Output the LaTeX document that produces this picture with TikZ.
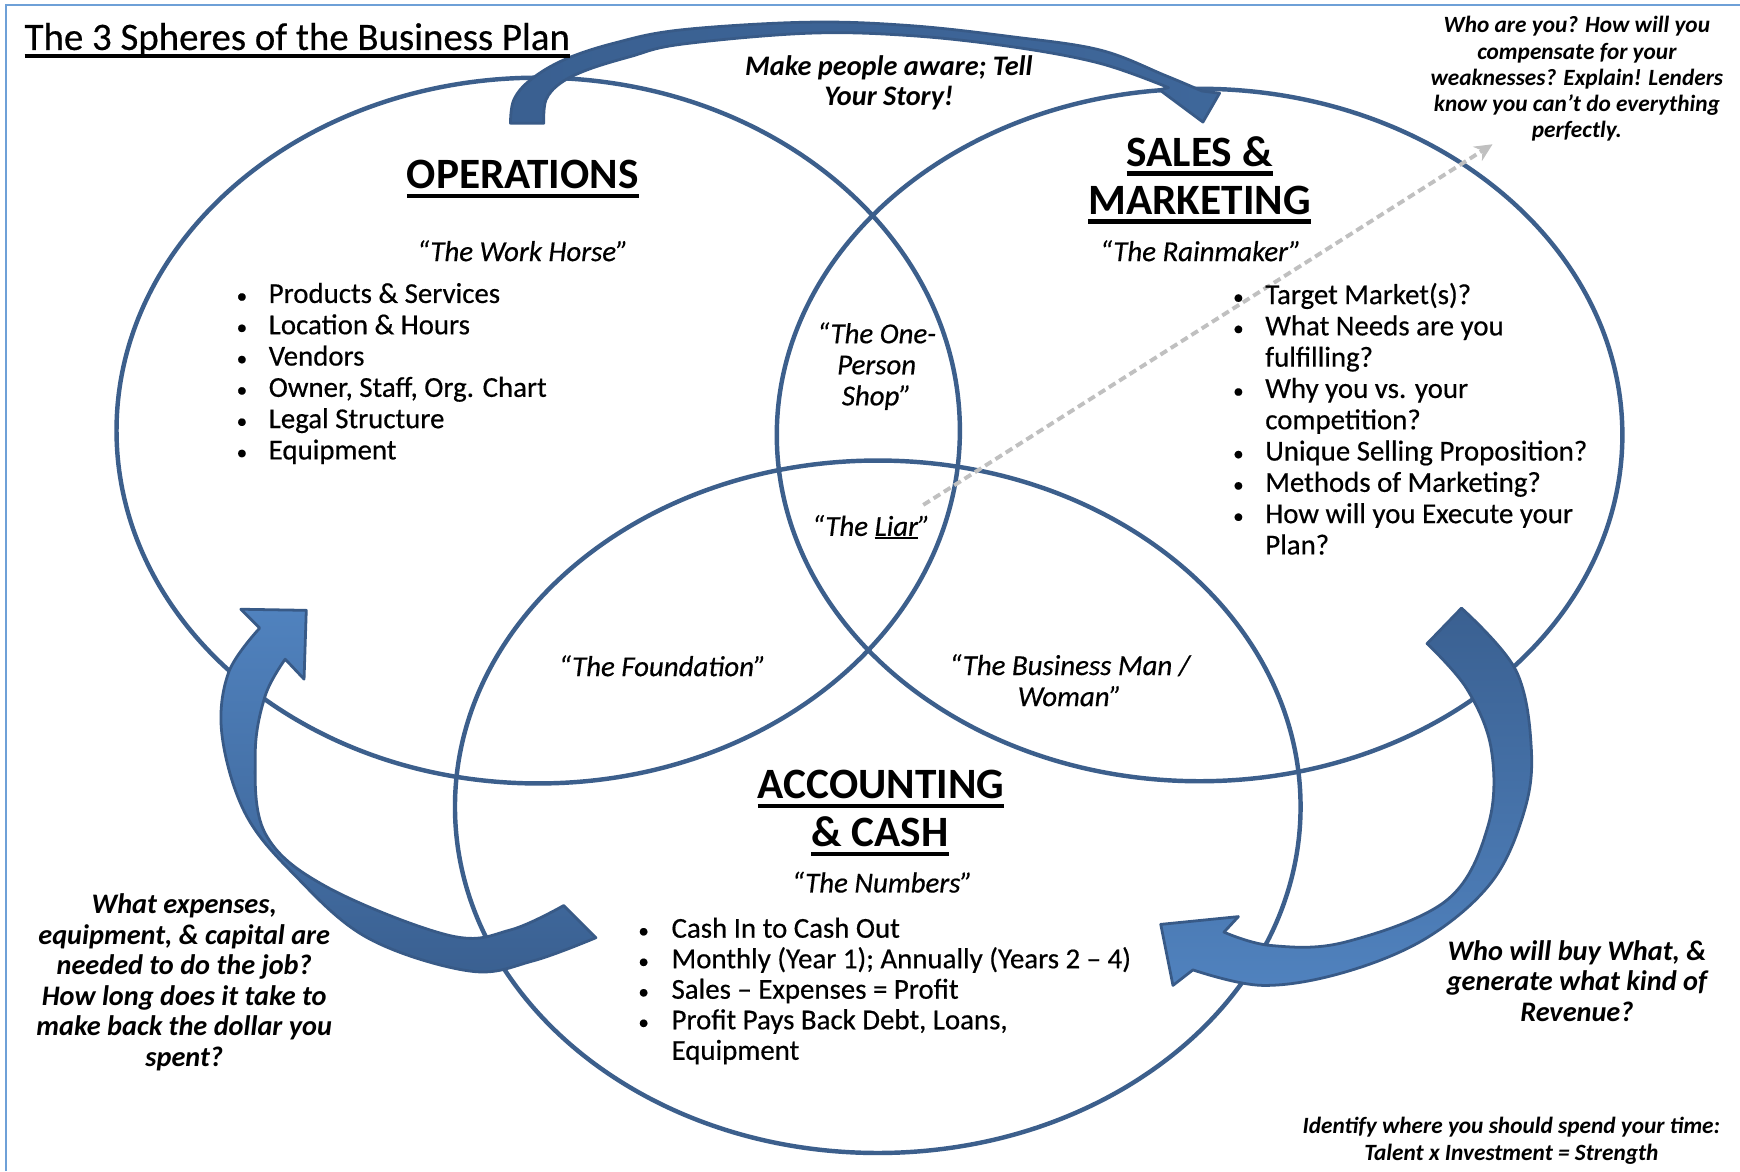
\documentclass[tikz,border=0pt]{standalone}
\usepackage{fontspec}
\setmainfont{Carlito}[UprightFeatures={FakeBold=0.5}, ItalicFeatures={FakeBold=0.5}]
\usetikzlibrary{arrows.meta}
\definecolor{circ}{RGB}{60,95,140}
\definecolor{adark}{RGB}{58,96,145}
\definecolor{alight}{RGB}{80,130,190}
\definecolor{aline}{RGB}{56,90,135}
\definecolor{framec}{RGB}{110,160,215}
\definecolor{dgray}{RGB}{192,192,192}
\newcommand\myul[3]{\setbox0=\hbox{#3}\rlap{\rule[-#1]{\wd0}{#2}}\box0}
\tikzset{
  sphere/.style={draw=circ, line width=4pt},
  bigarrow/.style={draw=aline, line width=2.5pt, line join=round},
  head/.style={anchor=base, inner sep=0pt, font=\bfseries\fontsize{39}{43}\selectfont},
  blt/.style={anchor=base west, inner sep=0pt, font=\fontsize{26}{28}\selectfont},
  dot/.style={anchor=base, inner sep=0pt, font=\fontsize{19}{28}\selectfont},
  quote/.style={anchor=center, inner sep=0pt, align=center, font=\itshape\fontsize{26}{28}\selectfont},
  question/.style={anchor=center, inner sep=0pt, align=center, font=\bfseries\itshape\fontsize{25.5}{27.5}\selectfont},
  smallq/.style={anchor=center, inner sep=0pt, align=center, font=\bfseries\itshape\fontsize{21}{23.5}\selectfont},
}
\begin{document}
\begin{tikzpicture}[x=1pt,y=-1pt]
\useasboundingbox (0,0) rectangle (1568,1055.3);
\fill[white] (0,0) rectangle (1568,1055.3);
% frame (top and left edges)
\draw[framec, line width=2pt] (5.5,1055.3) -- (5.5,4.5) -- (1568,4.5);

% the three spheres
\draw[sphere] (485,388) ellipse [x radius=380pt, y radius=318pt];
\draw[sphere] (1081,392) ellipse [x radius=381pt, y radius=312pt];
\draw[sphere] (791,727) ellipse [x radius=381pt, y radius=312pt];

% top curved arrow
\draw[bigarrow, left color=adark, right color=adark!80!alight]
  plot[smooth, tension=0.6] coordinates {(460,111) (463,90) (478,72) (508,54) (553,39) (613,27) (727,20) (819,23) (911,33) (991,45) (1050,68) (1083,82)}
  -- (1099,84) -- (1084,110) -- (1045,81) -- (1053,79)
  -- plot[smooth, tension=0.6] coordinates {(1053,79) (991,57) (911,42) (819,32) (727,30) (613,40) (568,51) (529,63) (505,75) (492,90) (490,111)}
  -- cycle;

% left curved arrow
\draw[bigarrow, top color=alight, bottom color=adark]
  plot[smooth, tension=0.6] coordinates {(537,845) (480,866) (423,875) (331,845) (265,788) (221,733) (200,662) (206,606) (234,566)}
  -- (217,549) -- (276,550) -- (274,612) -- (257,594)
  -- plot[smooth, tension=0.6] coordinates {(257,594) (239,627) (230,680) (239,751) (294,799) (405,843) (460,838) (508,816)}
  -- cycle;

% right curved arrow
\draw[bigarrow, top color=adark, bottom color=alight]
  plot[smooth, tension=0.6] coordinates {(1317,548) (1366,604) (1380,676) (1373,733) (1344,795) (1286,845) (1212,876) (1138,888) (1075,874)}
  -- (1057,888) -- (1046,833) -- (1116,826) -- (1103,840)
  -- plot[smooth, tension=0.6] coordinates {(1103,840) (1145,852) (1212,849) (1304,811) (1341,744) (1344,676) (1322,621) (1286,580)}
  -- cycle;

% dashed grey connector
\coordinate (dA) at (832,455);
\coordinate (dB) at (1345,130);
\draw[dgray, line width=3.5pt, dash pattern=on 7pt off 4pt, -{Stealth[length=16pt,width=15pt]}] (dA) -- (dB);

% title
\node[anchor=base west, inner sep=0pt, font=\fontsize{35}{42}\selectfont] (title) at (22,45) {\myul{7pt}{3.5pt}{The 3 Spheres of the Business Plan}};

% headings
\node[head] (ops) at (471,170) {\myul{8.5pt}{4pt}{OPERATIONS}};
\node[head] (sm1) at (1081,150) {\myul{8.5pt}{4pt}{SALES \&}};
\node[head] (sm2) at (1081,193) {\myul{8.5pt}{4pt}{MARKETING}};
\node[head] (ac1) at (794,720) {\myul{8.5pt}{4pt}{ACCOUNTING}};
\node[head] (ac2) at (793,763) {\myul{8.5pt}{4pt}{\& CASH}};

% nicknames
\node[quote] (qwh) at (471,226) {“The Work Horse”};
\node[quote] (qrm) at (1082,226) {“The Rainmaker”};
\node[quote] (qop) at (790,330) {“The One-\\Person\\Shop”};
\node[quote] (qli) at (785,475) {“The \myul{3pt}{1.6pt}{Liar}”};
\node[quote] (qfd) at (597,600) {“The Foundation”};
\node[quote] (qbm) at (964,613) {“The Business Man /\\Woman”};
\node[quote] (qnu) at (795,795) {“The Numbers”};

% operations list
\node[dot] (ob0) at (218,273.0) {•}; \node[blt] (o0) at (242,273.0) {Products \& Services};
\node[dot] (ob1) at (218,301.2) {•}; \node[blt] (o1) at (242,301.2) {Location \& Hours};
\node[dot] (ob2) at (218,329.4) {•}; \node[blt] (o2) at (242,329.4) {Vendors};
\node[dot] (ob3) at (218,357.6) {•}; \node[blt] (o3) at (242,357.6) {Owner, Staff, Org. Chart};
\node[dot] (ob4) at (218,385.8) {•}; \node[blt] (o4) at (242,385.8) {Legal Structure};
\node[dot] (ob5) at (218,414.0) {•}; \node[blt] (o5) at (242,414.0) {Equipment};

% sales list
\node[dot] (sb0) at (1116,274.0) {•}; \node[blt] (s0) at (1140,274.0) {Target Market(s)?};
\node[dot] (sb1) at (1116,302.2) {•}; \node[blt] (s1) at (1140,302.2) {What Needs are you};
                                       \node[blt] (s2) at (1140,330.4) {fulfilling?};
\node[dot] (sb3) at (1116,358.6) {•}; \node[blt] (s3) at (1140,358.6) {Why you vs. your};
                                       \node[blt] (s4) at (1140,386.8) {competition?};
\node[dot] (sb5) at (1116,415.0) {•}; \node[blt] (s5) at (1140,415.0) {Unique Selling Proposition?};
\node[dot] (sb6) at (1116,443.2) {•}; \node[blt] (s6) at (1140,443.2) {Methods of Marketing?};
\node[dot] (sb7) at (1116,471.4) {•}; \node[blt] (s7) at (1140,471.4) {How will you Execute your};
                                       \node[blt] (s8) at (1140,499.6) {Plan?};

% accounting list
\node[dot] (ab0) at (580,845.0) {•}; \node[blt] (a0) at (605,845.0) {Cash In to Cash Out};
\node[dot] (ab1) at (580,872.5) {•}; \node[blt] (a1) at (605,872.5) {Monthly (Year 1); Annually (Years 2 – 4)};
\node[dot] (ab2) at (580,900.0) {•}; \node[blt] (a2) at (605,900.0) {Sales – Expenses = Profit};
\node[dot] (ab3) at (580,927.5) {•}; \node[blt] (a3) at (605,927.5) {Profit Pays Back Debt, Loans,};
                                      \node[blt] (a4) at (605,955.0) {Equipment};

% questions
\node[question] (qtop) at (801,74.5) {Make people aware; Tell\\Your Story!};
\node[smallq] (qtr) at (1421,71) {Who are you? How will you\\compensate for your\\weaknesses? Explain! Lenders\\know you can’t do everything\\perfectly.};
\node[question] (qleft) at (166,885) {What expenses,\\equipment, \& capital are\\needed to do the job?\\How long does it take to\\make back the dollar you\\spent?};
\node[question] (qright) at (1421,884) {Who will buy What, \&\\generate what kind of\\Revenue?};
\node[smallq, font=\bfseries\itshape\fontsize{21}{24}\selectfont] (qbr) at (1362,1028) {Identify where you should spend your time:\\Talent x Investment = Strength};
\end{tikzpicture}
\end{document}
